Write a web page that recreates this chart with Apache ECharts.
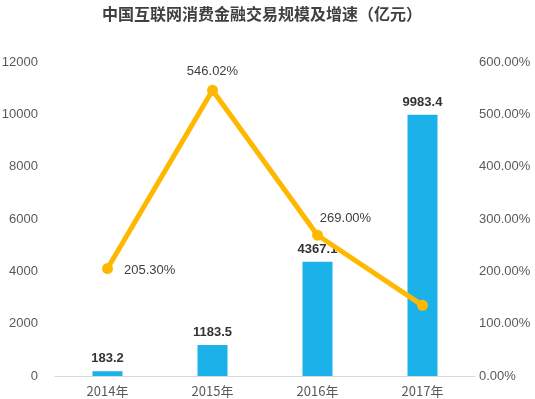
<!DOCTYPE html>
<html><head><meta charset="utf-8">
<script src="https://cdn.jsdelivr.net/npm/echarts@6/dist/echarts.min.js"></script>
<style>html,body{margin:0;padding:0;background:#fff}#c{width:535px;height:399px}</style>
</head><body><div id="c"></div>
<script>
const categories = ['2014年','2015年','2016年','2017年'];
const scaleValues = [183.2, 1183.5, 4367.1, 9983.4];
const growthValues = [205.30, 546.02, 269.00, 135];
const growthLabels = ['205.30%','546.02%','269.00%',''];
const titleText = '中国互联网消费金融交易规模及增速（亿元）';

const chart = echarts.init(document.getElementById('c'), null, {renderer:'canvas'});
const font = '"Microsoft YaHei","Noto Sans CJK SC",Arial,sans-serif';
const numFont = 'Arial,"Liberation Sans",sans-serif';
chart.setOption({
  animation:false,
  title:{text:titleText,left:97,top:1,textStyle:{fontSize:16,fontWeight:'bold',color:'#404040',fontFamily:'"Noto Sans CJK SC",sans-serif'}},
  grid:{left:55,right:60,top:62,bottom:23,containLabel:false,outerBoundsMode:'none'},
  xAxis:{type:'category',data:categories,axisTick:{show:false},
    axisLine:{lineStyle:{color:'#D9D9D9'}},
    axisLabel:{color:'#595959',fontSize:13,margin:9,fontFamily:font}},
  yAxis:[
    {type:'value',min:0,max:12000,interval:2000,splitLine:{show:false},axisLine:{show:false},axisTick:{show:false},
     axisLabel:{color:'#595959',fontSize:13,margin:17,fontFamily:numFont,formatter:v=>String(v)}},
    {type:'value',min:0,max:600,interval:100,splitLine:{show:false},axisLine:{show:false},axisTick:{show:false},
     axisLabel:{color:'#595959',fontSize:13,margin:4,fontFamily:numFont,formatter:v=>v.toFixed(2)+'%'}}
  ],
  series:[
    {type:'bar',data:scaleValues,barWidth:30,itemStyle:{color:'#1AB2E8'},
     label:{show:true,position:'top',distance:6,color:'#333',fontSize:13,fontWeight:'bold',fontFamily:numFont}},
    {type:'line',yAxisIndex:1,data:growthValues.map((v,i)=>{
        const o={value:v,label:{show:growthLabels[i]!=='',formatter:growthLabels[i],position:i===0?'right':'top'}};
        if(i===0){o.label.offset=[6,2];}
        if(i===1){o.label.offset=[0,-2];}
        if(i===2){o.label.offset=[28,0];}
        return o;}),
     symbol:'circle',symbolSize:11,lineStyle:{width:5,color:'#FFB800'},itemStyle:{color:'#FFB800'},
     label:{color:'#404040',fontSize:13,fontFamily:numFont}}
  ]
});
</script></body></html>
